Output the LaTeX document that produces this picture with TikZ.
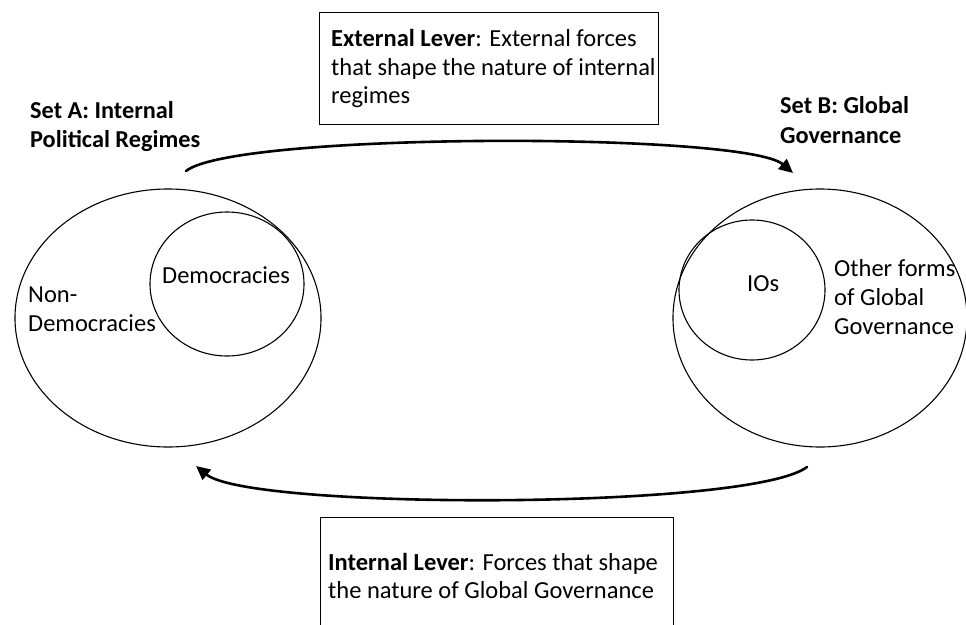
\documentclass[tikz,border=0pt]{standalone}
\usepackage{fontspec}
\setmainfont{Carlito}
\usetikzlibrary{arrows.meta}
\begin{document}
\begin{tikzpicture}[x=1pt,y=-1pt,
  lbl/.style={anchor=base west, inner sep=0pt, font=\fontsize{24.5}{29}\selectfont},
  boldlbl/.style={lbl, font=\fontsize{24.3}{29}\selectfont\bfseries},
  setshape/.style={draw=black, line width=1.1pt},
  boxstyle/.style={draw=black, line width=1.2pt, anchor=north west, inner sep=0pt},
  lever/.style={line width=2.6pt, line cap=round, -{Triangle[length=14pt,width=13pt]}}]
\clip (0,0) rectangle (966,624);
% sets
\draw[setshape] (168,318) ellipse [x radius=153, y radius=129];
\draw[setshape] (227,284) ellipse [x radius=77, y radius=72];
\draw[setshape] (820,318) ellipse [x radius=147, y radius=129];
\draw[setshape] (752,290) ellipse [x radius=73, y radius=70];
% set labels
\node[boldlbl] (sa1) at (30,118) {Set A: Internal};
\node[boldlbl] (sa2) at (30,147) {Political Regimes};
\node[boldlbl] (sb1) at (780,113) {Set B: Global};
\node[boldlbl] (sb2) at (780,143) {Governance};
% inner labels
\node[lbl] (dem) at (162,283) {Democracies};
\node[lbl] (non1) at (28,302) {Non-};
\node[lbl] (non2) at (28,331) {Democracies};
\node[lbl] (ios) at (747,291) {IOs};
\node[lbl] (oth1) at (834,276) {Other forms};
\node[lbl] (oth2) at (834,305) {of Global};
\node[lbl] (oth3) at (834,334) {Governance};
% boxes
\node[boxstyle, minimum width=339pt, minimum height=112pt] (extbox) at (319,12) {};
\node[lbl] (ext1) at (331,46) {\textbf{External Lever}: External forces};
\node[lbl] (ext2) at (331,75) {that shape the nature of internal};
\node[lbl] (ext3) at (331,103) {regimes};
\node[boxstyle, minimum width=353pt, minimum height=130pt] (intbox) at (320,517) {};
\node[lbl] (int1) at (328,570) {\textbf{Internal Lever}: Forces that shape};
\node[lbl] (int2) at (328,598) {the nature of Global Governance};
% levers
\coordinate (tl) at (186,171);
\coordinate (tr) at (793,173);
\coordinate (br) at (807,467);
\coordinate (bl) at (196,466);
\draw[lever] (tl) .. controls (235,132) and (745,132) .. (tr);
\draw[lever] (br) .. controls (750,510) and (250,510) .. (bl);
\end{tikzpicture}
\end{document}
